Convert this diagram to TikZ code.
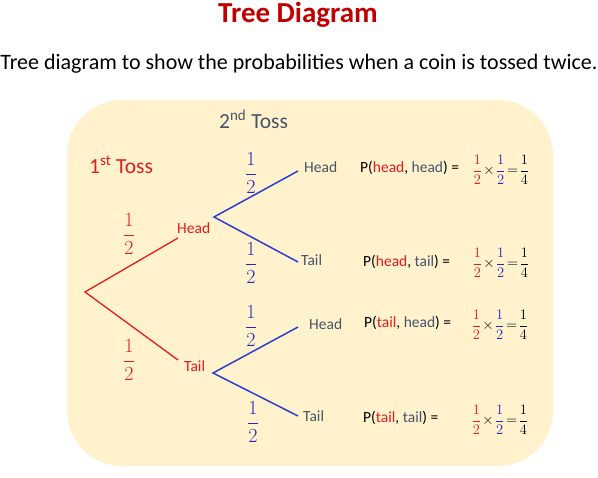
\RequirePackage{fix-cm}
\documentclass[tikz,border=0pt]{standalone}
\usepackage{amsmath}
\usepackage[no-math]{fontspec}
\setmainfont{Carlito}
\usetikzlibrary{positioning}
\definecolor{titlered}{RGB}{192,0,0}
\definecolor{tossred}{RGB}{228,28,30}
\definecolor{tossblue}{RGB}{45,62,214}
\definecolor{fracblue}{RGB}{38,38,190}
\definecolor{slate}{RGB}{68,84,106}
\definecolor{paper}{RGB}{255,242,204}
\newcommand{\bigfr}[1]{\fontsize{20}{24}\selectfont$\color{#1}\dfrac{1}{2}$}
\newcommand{\smfr}{\fontsize{14.5}{17}\selectfont\medmuskip=1.5mu\thickmuskip=2mu$\color{tossred}\dfrac{1}{2}\color{black}\times\color{fracblue}\dfrac{1}{2}\color{black}=\dfrac{1}{4}$}

\begin{document}
\begin{tikzpicture}[x=1pt,y=-1pt]
  \tikzstyle{every node}=[inner sep=0pt]
  \tikzstyle{first}=[line width=1.3pt, tossred]
  \tikzstyle{second}=[line width=1.5pt, tossblue]
  \tikzstyle{outcome}=[anchor=west, text=slate, font=\fontsize{15.5}{18}\selectfont]
  \tikzstyle{result}=[anchor=west, font=\fontsize{15.5}{18}\selectfont]
  \useasboundingbox (0,0) rectangle (598,478);
  \fill[paper, rounded corners=55pt] (67,100) rectangle (553,466);
  % headings
  \node[titlered, font=\fontsize{29}{33}\selectfont\bfseries] (title) at (298,15) {Tree Diagram};
  \node[font=\fontsize{22}{26}\selectfont] (subtitle) at (299,64) {Tree diagram to show the probabilities when a coin is tossed twice.};
  \node[anchor=west, tossred, font=\fontsize{21.5}{25}\selectfont] (toss1) at (89,165) {1\textsuperscript{st} Toss};
  \node[anchor=west, slate, font=\fontsize{21.5}{25}\selectfont] (toss2) at (219,119) {2\textsuperscript{nd} Toss};
  % branch points
  \coordinate (root) at (85,292);
  \coordinate (hin) at (178,238);
  \coordinate (tin) at (178,360);
  \coordinate (hout) at (214,217);
  \coordinate (tout) at (213,373);
  \coordinate (hh) at (298,171);
  \coordinate (ht) at (298,262);
  \coordinate (th) at (298,327);
  \coordinate (tt) at (298,416);
  % first toss
  \node[anchor=west, tossred, font=\fontsize{15.5}{18}\selectfont] (head) at (177,228) {Head};
  \node[anchor=west, tossred, font=\fontsize{15.5}{18}\selectfont] (tail) at (184,366) {Tail};
  \draw[first] (hin) -- (root) -- (tin);
  \node (p1) at (129,234) {\bigfr{tossred}};
  \node (p2) at (129,360) {\bigfr{tossred}};
  % second toss
  \draw[second] (hh) -- (hout) -- (ht);
  \draw[second] (th) -- (tout) -- (tt);
  \node (p3) at (251,173) {\bigfr{fracblue}};
  \node (p4) at (251,263) {\bigfr{fracblue}};
  \node (p5) at (251,326) {\bigfr{fracblue}};
  \node (p6) at (253,422) {\bigfr{fracblue}};
  \node[outcome] (headhead) at (304,167) {Head};
  \node[outcome] (headtail) at (301,260) {Tail};
  \node[outcome] (tailhead) at (309,324) {Head};
  \node[outcome] (tailtail) at (303,416) {Tail};
  % probabilities
  \node[result] (rhh) at (360,168) {P(\textcolor{tossred}{head}, \textcolor{slate}{head}) =};
  \node[result] (rht) at (363,262) {P(\textcolor{tossred}{head}, \textcolor{slate}{tail}) =};
  \node[result] (rth) at (364,323) {P(\textcolor{tossred}{tail}, \textcolor{slate}{head}) =};
  \node[result] (rtt) at (363,418) {P(\textcolor{tossred}{tail}, \textcolor{slate}{tail}) =};
  \node (fhh) at (501,170) {\smfr};
  \node (fht) at (501,263) {\smfr};
  \node (fth) at (500,325) {\smfr};
  \node (ftt) at (500,420) {\smfr};
\end{tikzpicture}
\end{document}
